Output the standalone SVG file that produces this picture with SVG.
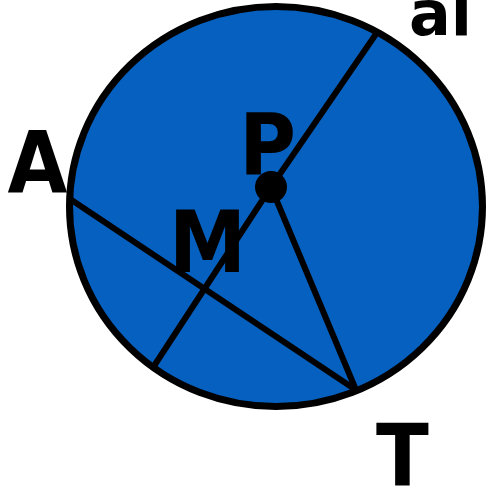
<svg xmlns="http://www.w3.org/2000/svg" width="487" height="490" viewBox="0 0 487 490">
<style>
.lbl{font-family:"DejaVu Sans",sans-serif;font-weight:bold;font-size:86px;fill:#000}
.sm{font-family:"DejaVu Sans",sans-serif;font-weight:bold;font-size:62px;fill:#000}
.ln{stroke:#000;stroke-width:6;fill:none;stroke-linecap:round}
</style>
<g id="circle"><ellipse cx="276" cy="206.5" rx="206.5" ry="200" fill="#0560bf" stroke="#000" stroke-width="7"/></g>
<g id="connectors">
<line class="ln" x1="376" y1="34" x2="271" y2="187"/>
<line class="ln" x1="271" y1="187" x2="154" y2="366"/>
<line class="ln" x1="70" y1="199" x2="356" y2="390"/>
<line class="ln" x1="271" y1="187" x2="356" y2="390"/>
</g>
<g id="P"><circle cx="271" cy="187" r="16" fill="#000"/><text class="lbl" transform="translate(267.5,175) scale(0.9,1)" text-anchor="middle">P</text></g>
<g id="A"><text class="lbl" transform="translate(37.5,192) scale(0.9,1)" text-anchor="middle">A</text></g>
<g id="M"><text class="lbl" transform="translate(207.5,272) scale(0.9,1)" text-anchor="middle">M</text></g>
<g id="T"><text class="lbl" transform="translate(402.5,485) scale(0.9,1)" text-anchor="middle">T</text></g>
<g id="al"><text class="sm" x="409" y="35">al</text></g>
</svg>
